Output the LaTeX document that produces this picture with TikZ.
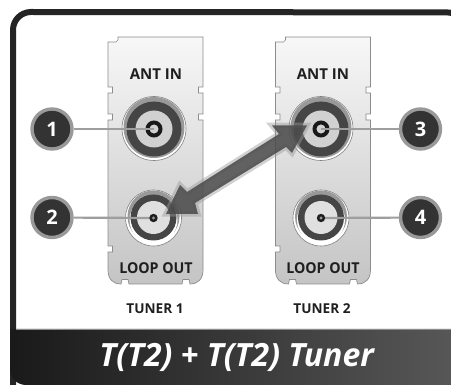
\documentclass[tikz,border=0pt]{standalone}
\usepackage{fontspec}
\usepackage{graphicx}
\setmainfont{Open Sans}
\definecolor{frameK}{gray}{0.14}
\definecolor{ringG}{gray}{0.6}
\definecolor{darkG}{gray}{0.27}
\definecolor{discK}{gray}{0.2}
\tikzset{
  x=1pt,y=-1pt,
  lab/.style={font=\bfseries\fontsize{15}{16}\selectfont,text=black!88,inner sep=0pt},
  tun/.style={font=\bfseries\fontsize{13.6}{15}\selectfont,text=black!88,inner sep=0pt},
  badge/.style={circle,draw=ringG,line width=3.4pt,fill=discK,minimum size=40pt,inner sep=0pt,text=white,font=\bfseries\fontsize{20}{22}\selectfont},
  leader/.style={draw=black!38,line width=2.2pt},
  plateL/.style={draw=black!45,line width=0.7pt,top color=black!3,bottom color=black!23},
}
\begin{document}
\begin{tikzpicture}
\useasboundingbox (0,0) rectangle (451,385);
\fill[white] (0,0) rectangle (451,385);
% frame
\draw[frameK,line width=6pt] (13,400) -- (13,30) arc[start angle=180,end angle=270,radius=18] -- (447,12.4) arc[start angle=270,end angle=360,radius=18];
\shade[left color=black!90,right color=black!66] (10,329) -- (451,329) -- (451,385) -- (26,385) arc[start angle=90,end angle=180,radius=16] -- cycle;
\draw[black!45,line width=0.8pt] (16,329) -- (451,329);
% plates
\foreach \px in {108,275.5}{
  \begin{scope}[xshift=\px pt]
  \path[plateL] (0,42) -- (8,42) -- (10,40) -- (10,37) -- (95,37) -- (95,87) -- (90.5,87) -- (90.5,93) -- (95,93)
   -- (95,114) -- (90.5,114) -- (90.5,120) -- (95,120) -- (95,270)
   .. controls (95,279) and (90,284) .. (82,284) -- (81,279.5) -- (75,279.5) -- (74,284)
   -- (21,284) -- (20,279.5) -- (14,279.5) -- (13,284)
   .. controls (5,284) and (0,279) .. (0,270)
   -- (0,252) -- (4.5,252) -- (4.5,246) -- (0,246) -- (0,120) -- (4.5,120) -- (4.5,114) -- (0,114)
   -- (0,93) -- (4.5,93) -- (4.5,87) -- (0,87) -- cycle;
  \end{scope}
}
% upper connectors
\foreach \cx in {154,321}{
  \fill[white] (\cx,128.5) circle (32pt);
  \draw[black!50,line width=0.6pt] (\cx,128.5) circle (32pt);
  \fill[ringG] (\cx,127.5) circle (30.5pt);
  \fill[darkG] (\cx,129) circle (27.5pt);
  \fill[black!18] (\cx,129) circle (18.5pt);
  \draw[black!90,line width=4pt] (\cx,129) circle (6.5pt);
}
% lower connectors
\foreach \cx in {153.5,321}{
  \fill[white] (\cx,218) circle (28pt);
  \draw[black!50,line width=0.6pt] (\cx,218) circle (28pt);
  \fill[ringG] (\cx,216.5) circle (26pt);
  \fill[white] (\cx,220) circle (24pt);
  \fill[darkG] (\cx,217.5) circle (23pt);
  \fill[black!12] (\cx,217.5) circle (16.5pt);
}
% texts
\node[lab] (ant1) at (156,74) {ANT IN};
\node[lab] (ant2) at (323,74) {ANT IN};
\node[lab] (lo1) at (156,268) {\scalebox{.95}[1]{LOOP OUT}};
\node[lab] (lo2) at (323,268) {\scalebox{.95}[1]{LOOP OUT}};
\node[tun] (t1) at (155,309) {TUNER 1};
\node[tun] (t2) at (322,309) {TUNER 2};
\node[font=\itshape\bfseries\fontsize{32}{36}\selectfont,text=white,inner sep=0pt] (title) at (236.5,357) {T(T2) + T(T2) Tuner};
\coordinate (c1) at (154,129);
\coordinate (c2) at (153.5,218);
\coordinate (c3) at (321,129);
\coordinate (c4) at (321,218);
\node[badge] (n1) at (52,129) {1};
\node[badge] (n2) at (52,217.5) {2};
\node[badge] (n3) at (420.5,129) {3};
\node[badge] (n4) at (420.5,217.5) {4};
\draw[leader] (n1) -- (c1);
\draw[leader] (n2) -- (c2);
\draw[leader] (n3) -- (c3);
\draw[leader] (n4) -- (c4);
\fill[black!88] (c2) circle (4.2pt);
\fill[black!88] (c4) circle (4.2pt);
\fill[black!40] (c2) circle (1.6pt);
\fill[black!40] (c4) circle (1.6pt);
% arrow
\path[draw=black!40,draw opacity=0.45,line width=5.5pt,line join=miter,miter limit=6]
 (307,125.5) -- (292,153) -- (286,147) -- (195,203) -- (198,214) -- (166,214) -- (180,185) -- (187,192) -- (279,134) -- (272,125.5) -- cycle;
\path[fill=black!70,fill opacity=0.88]
 (307,125.5) -- (292,153) -- (286,147) -- (195,203) -- (198,214) -- (166,214) -- (180,185) -- (187,192) -- (279,134) -- (272,125.5) -- cycle;
\end{tikzpicture}
\end{document}
